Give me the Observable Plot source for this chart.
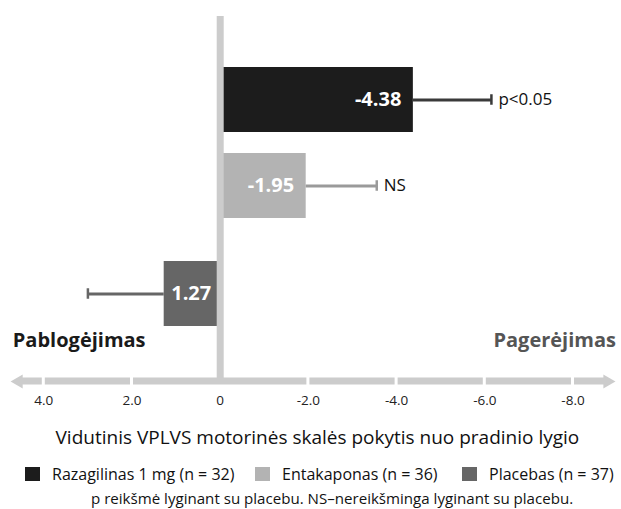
<!DOCTYPE html>
<html>
<head>
<meta charset="utf-8">
<script src="https://cdn.jsdelivr.net/npm/d3@7"></script>
<script src="https://cdn.jsdelivr.net/npm/@observablehq/plot@0.6"></script>
<style>
  html, body { margin: 0; padding: 0; background: #fff; }
  #wrap { position: relative; width: 621px; height: 509px; font-family: "Open Sans", sans-serif; color: #111; }
  #chart svg { display: block; }
  .item { position: absolute; top: 465px; height: 18px; display: flex; align-items: center; font-size: 16px; white-space: nowrap; }
  .sw { width: 15px; height: 14px; margin-right: 12px; flex: none; }
  #caption { position: absolute; top: 488px; left: 91px; font-size: 15.1px; white-space: nowrap; line-height: 20px; }
</style>
</head>
<body>
<div id="wrap">
  <div id="chart"></div>
  <div id="legend"></div>
  <div id="caption"></div>
</div>
<script>
// ---- data ----
const groups = ["Razagilinas 1 mg (n = 32)", "Entakaponas (n = 36)", "Placebas (n = 37)"];
const values = [-4.38, -1.95, 1.27];
const errEnds = [-6.15, -3.55, 3.0];
const valueLabels = ["-4.38", "-1.95", "1.27"];
const sigLabels = ["p<0.05", "NS", ""];
const barColors = ["#1c1c1c", "#b3b3b3", "#666666"];
const errColors = ["#3a3a3a", "#9a9a9a", "#666666"];
const tickValues = [4, 2, 0, -2, -4, -6, -8];
const tickLabels = ["4.0", "2.0", "0", "-2.0", "-4.0", "-6.0", "-8.0"];
const sideLabels = ["Pablogėjimas", "Pagerėjimas"];
const axisTitle = "Vidutinis VPLVS motorinės skalės pokytis nuo pradinio lygio";
const footnote = "p reikšmė lyginant su placebu. NS–nereikšminga lyginant su placebu.";

// ---- build table ----
const rows = groups.map((g, i) => ({
  group: g, value: values[i], err: errEnds[i], label: valueLabels[i],
  sig: sigLabels[i], fill: barColors[i], stroke: errColors[i]
}));
const upper = rows.slice(0, 2);   // first two rows
const lower = rows.slice(2);      // placebo row, set lower with extra gap
const placeboGap = 22;

// axis decoration (gray arrowed bar with gaps at ticks)
const leftEnd = tickValues[0] + 0.57;
const rightEnd = tickValues[tickValues.length - 1] - 0.78;
const gapTicks = tickValues.filter(v => v !== 0);
const stops = [leftEnd, ...gapTicks, rightEnd];
const segments = d3.pairs(stops).map(([a, b]) => ({a, b}));
const heads = [{x: leftEnd, rot: -90}, {x: rightEnd, rot: 90}];

const axisGray = "#cccccc";
const H = 455, mTop = 16, mBottom = 74;
const frameH = H - mTop - mBottom;
const capInset = 27.25;

function rowMarks(data, dy) {
  return [
    Plot.ruleY(data, {y: "group", x1: "value", x2: "err", stroke: "stroke", strokeWidth: 3, dy}),
    Plot.tickX(data, {x: "err", y: "group", stroke: "stroke", strokeWidth: 2.5, insetTop: capInset, insetBottom: capInset, dy}),
    Plot.text(data.filter(d => d.value < 0), {x: "value", y: "group", text: "label", textAnchor: "end", dx: -12, dy,
      fill: "white", fontWeight: "bold", fontSize: 20}),
    Plot.text(data.filter(d => d.value >= 0), {x: "value", y: "group", text: "label", textAnchor: "start", dx: 7, dy,
      fill: "white", fontWeight: "bold", fontSize: 20}),
    Plot.text(data.filter(d => d.sig), {x: "err", y: "group", text: "sig", textAnchor: "start", dx: 7, dy,
      fill: "#111", fontSize: 17})
  ];
}

const chart = Plot.plot({
  width: 621,
  height: H,
  marginLeft: 43.3,
  marginRight: 48.5,
  marginTop: mTop,
  marginBottom: mBottom,
  x: {domain: [tickValues[0], tickValues[tickValues.length - 1]]},
  y: {type: "band", domain: groups, range: [65.25, 304.75], paddingInner: 0.247, paddingOuter: 0, axis: null},
  color: {type: "identity"},
  style: {fontFamily: "'Open Sans', sans-serif", fontSize: "14px", color: "#111", background: "white"},
  marks: [
    // axis bar with gaps
    Plot.rect(segments, {x1: "a", x2: "b", fill: axisGray, insetTop: frameH - 3.5, insetBottom: -3.5, insetLeft: 1.5, insetRight: 1.5}),
    Plot.dot(heads, {x: "x", frameAnchor: "bottom", symbol: "triangle", r: 5.2, rotate: "rot", fill: axisGray, stroke: null}),
    // bars
    Plot.barX(upper, {x: "value", y: "group", fill: "fill"}),
    Plot.barX(lower, {x: "value", y: "group", fill: "fill", dy: placeboGap}),
    // zero line
    Plot.ruleX([0], {stroke: axisGray, strokeWidth: 7}),
    ...rowMarks(upper, 0),
    ...rowMarks(lower, placeboGap),
    // tick labels
    Plot.axisX(tickValues, {tickSize: 0, tickPadding: 14, fontSize: 13.5, fill: "#222", label: null,
      tickFormat: d => tickLabels[tickValues.indexOf(d)]}),
    // side labels
    Plot.text([sideLabels[0]], {frameAnchor: "bottom-left", text: d => d, textAnchor: "start", lineAnchor: "middle",
      dx: -31, dy: -40.5, fontWeight: "bold", fontSize: 20, fill: "#1a1a1a"}),
    Plot.text([sideLabels[1]], {frameAnchor: "bottom-right", text: d => d, textAnchor: "end", lineAnchor: "middle",
      dx: 43, dy: -40.5, fontWeight: "bold", fontSize: 20, fill: "#555555"}),
    // axis title
    Plot.text([axisTitle], {frameAnchor: "bottom", text: d => d, lineAnchor: "middle", dx: 9, dy: 56,
      fontSize: 19, fill: "#111"})
  ]
});
document.getElementById("chart").appendChild(chart);

// ---- legend ----
const legendLeft = [25, 255, 462];
const legend = document.getElementById("legend");
groups.forEach((g, i) => {
  const it = document.createElement("div");
  it.className = "item";
  it.style.left = legendLeft[i] + "px";
  const sw = document.createElement("span");
  sw.className = "sw";
  sw.style.background = barColors[i];
  const tx = document.createElement("span");
  tx.textContent = g;
  it.appendChild(sw); it.appendChild(tx);
  legend.appendChild(it);
});
document.getElementById("caption").textContent = footnote;
</script>
</body>
</html>
